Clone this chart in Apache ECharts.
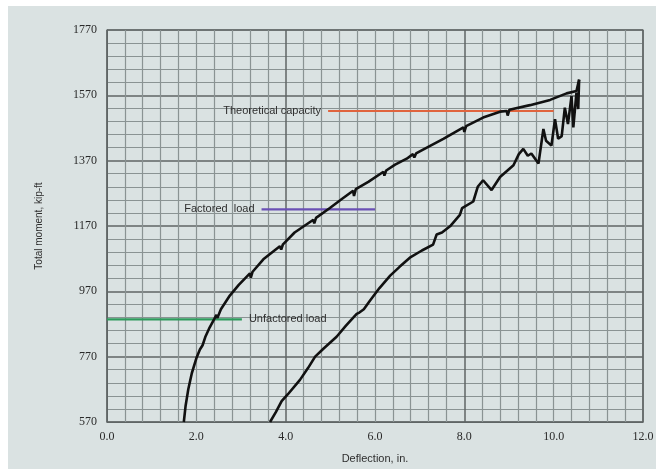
<!DOCTYPE html>
<html>
<head>
<meta charset="utf-8">
<script src="https://cdn.jsdelivr.net/npm/echarts@6/dist/echarts.min.js"></script>
<style>
  html, body { margin: 0; padding: 0; background: #fff; }
  #chart { width: 666px; height: 469px; }
</style>
</head>
<body>
<div id="chart"></div>
<script>
// moment vs deflection
const loadCurve = [
  [1.72, 570], [1.76, 620], [1.82, 670], [1.90, 720], [2.00, 765], [2.08, 792],
  [2.10, 786], [2.14, 805], [2.20, 830], [2.30, 860], [2.40, 885], [2.45, 898],
  [2.47, 888], [2.55, 915], [2.75, 957], [2.95, 990], [3.20, 1025], [3.22, 1012],
  [3.26, 1030], [3.50, 1068], [3.87, 1108], [3.90, 1098], [3.94, 1114], [4.20, 1150],
  [4.62, 1189], [4.64, 1178], [4.68, 1195], [4.99, 1225], [5.25, 1252], [5.51, 1278],
  [5.53, 1262], [5.57, 1283], [5.85, 1305], [6.19, 1336], [6.21, 1324], [6.25, 1340],
  [6.45, 1358], [6.71, 1376], [6.85, 1390], [6.88, 1380], [6.92, 1392], [7.16, 1410],
  [7.53, 1437], [7.98, 1472], [8.00, 1458], [8.04, 1476], [8.42, 1502], [8.80, 1520],
  [8.95, 1522], [8.97, 1508], [9.01, 1526], [9.47, 1540], [9.92, 1556], [10.29, 1576],
  [10.51, 1583], [10.57, 1618]
];
const reloadCurve = [
  [3.65, 570], [3.78, 600], [3.91, 634], [4.05, 655], [4.32, 699], [4.50, 735],
  [4.66, 770], [4.85, 795], [5.14, 831], [5.35, 865], [5.59, 901], [5.65, 905],
  [5.75, 915], [5.89, 942], [6.10, 980], [6.34, 1018], [6.55, 1045], [6.78, 1073],
  [7.05, 1095], [7.30, 1113], [7.38, 1144], [7.50, 1150], [7.68, 1169], [7.90, 1204],
  [7.95, 1225], [8.20, 1245], [8.30, 1290], [8.42, 1310], [8.61, 1280], [8.80, 1320],
  [9.10, 1356], [9.22, 1390], [9.32, 1406], [9.42, 1385], [9.50, 1392], [9.66, 1361],
  [9.77, 1467], [9.83, 1431], [9.95, 1416], [10.03, 1497], [10.10, 1437], [10.18, 1445],
  [10.25, 1532], [10.32, 1482], [10.40, 1568], [10.44, 1472], [10.51, 1578], [10.55, 1528],
  [10.57, 1618]
];

// reference levels
const capacityLine = [[4.95, 1522], [10.0, 1522]];
const factoredLine = [[3.46, 1221], [6.0, 1221]];
const unfactoredLine = [[0.0, 884], [3.02, 884]];

const xTicks = { min: 0, max: 12, step: 2 };
const yTicks = { min: 570, max: 1770, step: 200 };

const chart = echarts.init(document.getElementById('chart'));

const sans = "'Liberation Sans', Arial, sans-serif";
const serif = "'Liberation Serif', 'DejaVu Serif', serif";

const refSeries = (name, data, color, labelText, pos) => {
  const pts = data.map((p) => ({ value: p }));
  const idx = pos === 'left' ? 0 : pts.length - 1;
  pts[idx].label = {
    show: true,
    position: pos,
    distance: 7,
    formatter: labelText,
    color: '#2e2e2e',
    fontSize: 11,
    fontFamily: sans,
  };
  return {
    type: 'line',
    name,
    data: pts,
    symbol: 'circle',
    symbolSize: 0,
    showSymbol: true,
    lineStyle: { color, width: 2.2 },
    itemStyle: { color },
    z: 3,
  };
};

const option = {
  backgroundColor: '#ffffff',
  animation: false,
  graphic: [{
    type: 'rect',
    shape: { x: 8, y: 6, width: 648, height: 463 },
    style: { fill: '#dae2e2' },
    z: -10,
  }],
  grid: {
    left: 107,
    top: 30,
    width: 536,
    height: 396,
    show: true,
    borderColor: '#5f6565',
    borderWidth: 1.2,
  },
  xAxis: [{
    type: 'value',
    min: xTicks.min,
    max: xTicks.max,
    interval: xTicks.step,
    name: 'Deflection, in.',
    nameLocation: 'middle',
    nameGap: 31,
    nameTextStyle: { color: '#2e2e2e', fontSize: 11, fontFamily: sans },
    axisLine: { show: true, lineStyle: { color: '#5f6565' } },
    axisTick: { show: false },
    axisLabel: {
      color: '#2a2a2a',
      fontSize: 12,
      margin: 9,
      fontFamily: serif,
      formatter: (v) => v.toFixed(1),
    },
    splitLine: { show: false },
  }, {
    type: 'value',
    min: xTicks.min,
    max: xTicks.max,
    interval: 4,
    position: 'bottom',
    axisLine: { show: false },
    axisTick: { show: false },
    axisLabel: { show: false },
    splitLine: { show: true, lineStyle: { color: '#5f6565', width: 1.5 } },
    minorTick: { show: false, splitNumber: 10 },
    minorSplitLine: { show: true, lineStyle: { color: '#8a9393', width: 1.2 } },
  }],
  yAxis: {
    type: 'value',
    min: yTicks.min,
    max: yTicks.max,
    interval: yTicks.step,
    name: 'Total moment, kip-ft',
    nameLocation: 'middle',
    nameGap: 63,
    nameTextStyle: { color: '#2e2e2e', fontSize: 10, fontFamily: sans },
    axisLine: { show: true, lineStyle: { color: '#5f6565' } },
    axisTick: { show: false },
    axisLabel: {
      color: '#2a2a2a',
      fontSize: 12,
      margin: 10,
      fontFamily: serif,
      formatter: (v) => String(v),
    },
    splitLine: { show: true, lineStyle: { color: '#5f6565', width: 1.5 } },
    minorTick: { show: false, splitNumber: 5 },
    minorSplitLine: { show: true, lineStyle: { color: '#8a9393', width: 1.2 } },
  },
  series: [
    {
      type: 'line',
      name: 'load',
      data: loadCurve,
      showSymbol: false,
      lineStyle: { color: '#111', width: 2.6 },
      z: 5,
    },
    {
      type: 'line',
      name: 'reload',
      data: reloadCurve,
      showSymbol: false,
      lineStyle: { color: '#111', width: 2.6 },
      z: 5,
    },
    refSeries('capacity', capacityLine, '#e0643e', 'Theoretical capacity', 'left'),
    refSeries('factored', factoredLine, '#6a50b4', 'Factored  load', 'left'),
    refSeries('unfactored', unfactoredLine, '#2e9a5c', 'Unfactored load', 'right'),
  ],
};

chart.setOption(option);
</script>
</body>
</html>
